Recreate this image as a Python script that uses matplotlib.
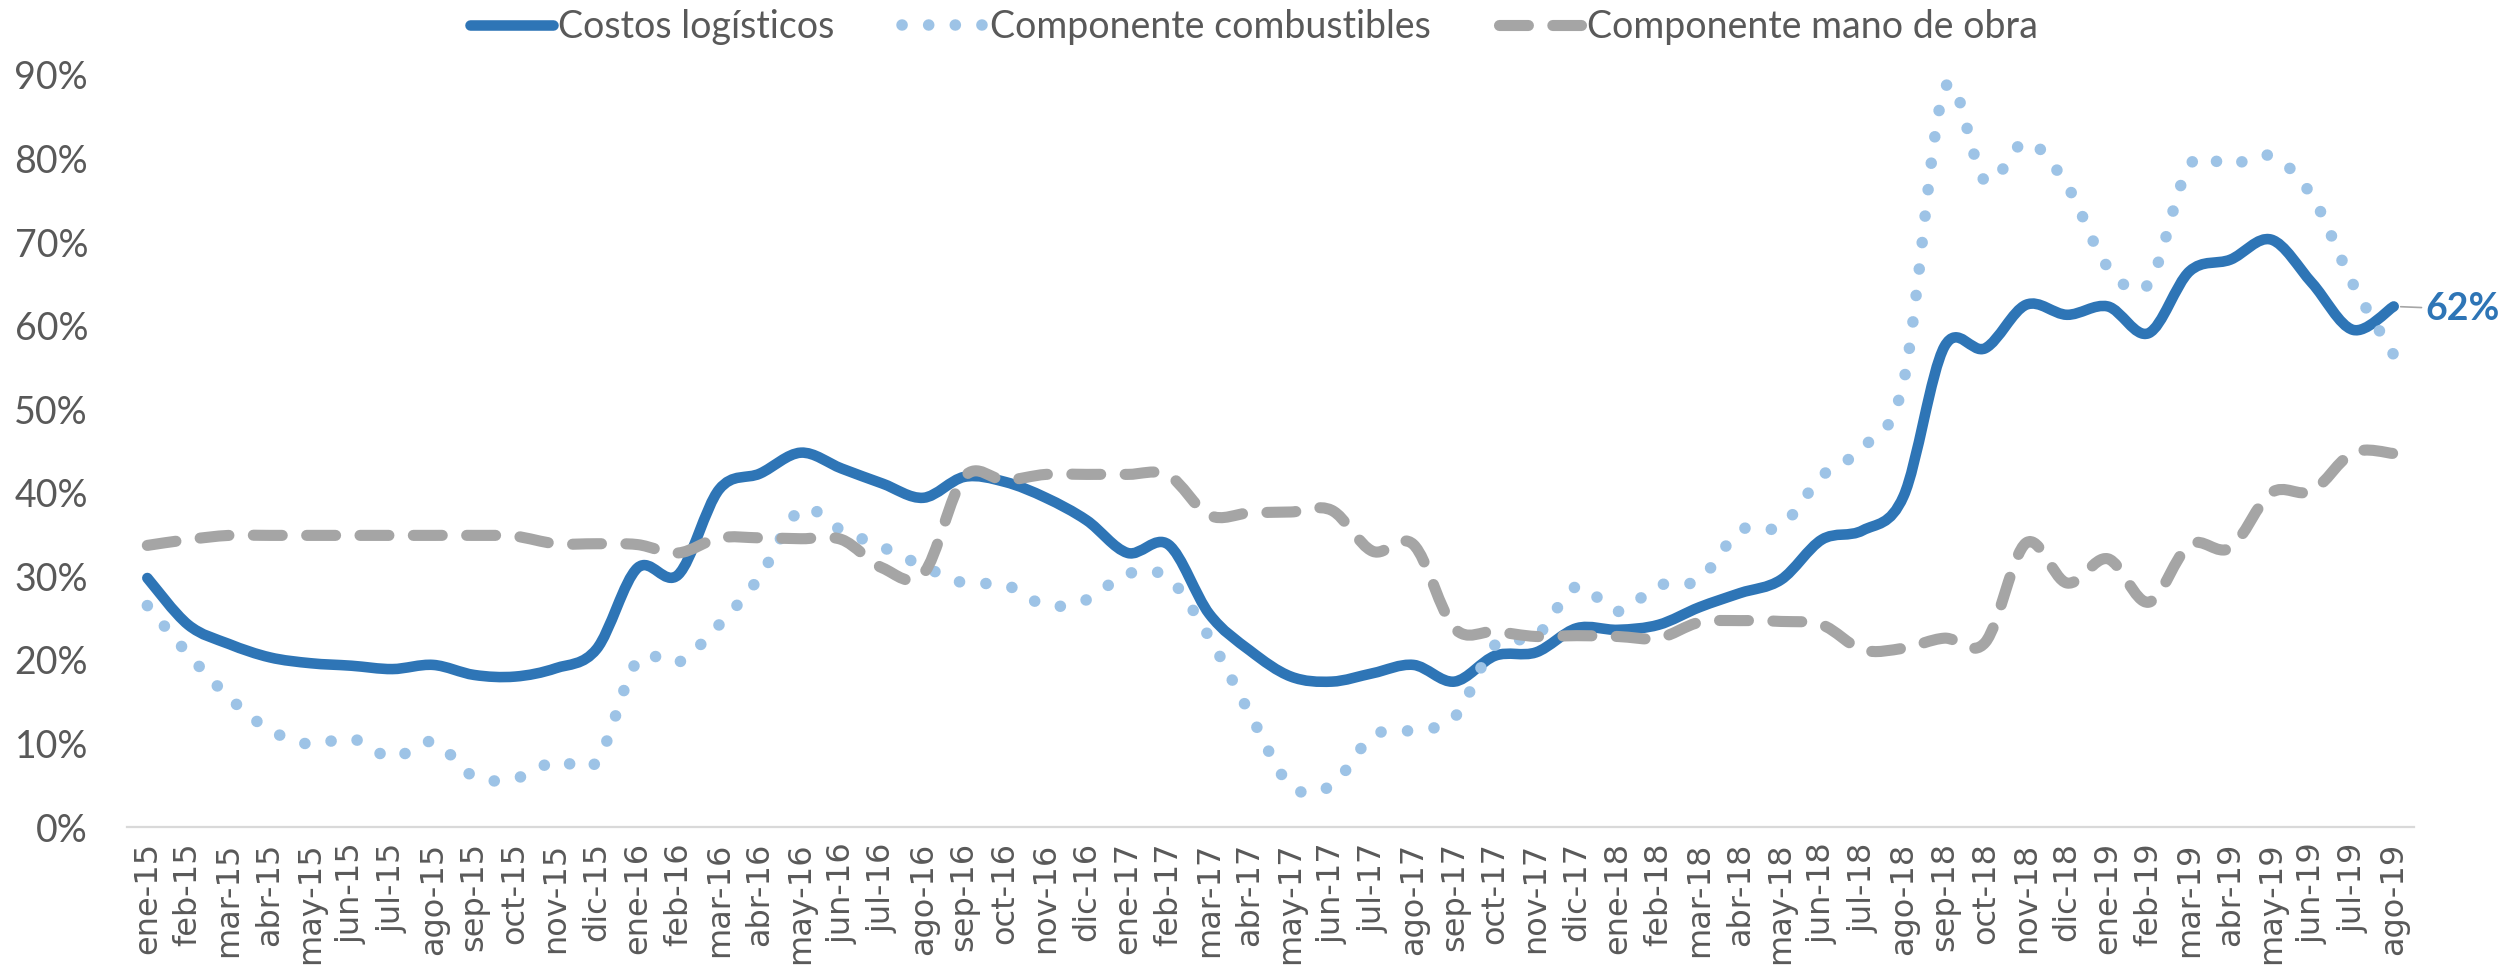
import numpy as np
import matplotlib.pyplot as plt
from matplotlib.path import Path
from matplotlib.patches import PathPatch
from matplotlib.lines import Line2D

# Data (percent), monthly ene-15 .. ago-19
meses = ['ene', 'feb', 'mar', 'abr', 'may', 'jun', 'jul', 'ago', 'sep', 'oct', 'nov', 'dic']
categorias = [f'{m}-{a}' for a in (15, 16, 17, 18) for m in meses] + [f'{m}-19' for m in meses[:8]]

costos = [29.8, 24.2, 21.9, 20.3, 19.6, 19.3, 18.9, 19.4, 18.2, 18.0, 19.0, 21.3,
          31.0, 30.2, 40.4, 42.3, 44.8, 42.9, 41.1, 39.4, 41.9, 41.3, 39.4, 36.7,
          32.8, 33.8, 25.5, 21.1, 18.0, 17.4, 18.4, 19.4, 17.4, 20.5, 20.9, 23.8,
          23.6, 24.2, 26.3, 28.0, 29.6, 34.4, 35.5, 39.6, 57.5, 57.3, 62.5, 61.3,
          62.3, 59.1, 66.5, 67.9, 70.3, 65.1, 59.5, 62.3]

combustibles = [26.5, 20.7, 15.5, 11.6, 9.9, 10.6, 8.3, 10.2, 6.0, 5.8, 7.9, 7.8,
                19.9, 19.7, 24.2, 30.0, 38.0, 35.5, 33.5, 31.2, 29.2, 29.0, 26.5, 27.2,
                30.3, 29.8, 22.7, 13.5, 4.9, 5.0, 10.9, 11.6, 13.1, 21.8, 22.8, 28.8,
                25.8, 28.9, 29.6, 35.5, 36.0, 42.0, 45.4, 53.3, 88.3, 77.3, 82.0, 76.8,
                67.0, 65.0, 79.2, 79.2, 80.3, 75.5, 65.0, 56.5]

mano_obra = [33.7, 34.4, 34.9, 34.9, 34.9, 34.9, 34.9, 34.9, 34.9, 34.8, 33.9, 33.9,
             33.8, 32.8, 34.6, 34.6, 34.5, 34.4, 31.0, 30.3, 41.9, 41.5, 42.2, 42.2,
             42.2, 42.1, 37.3, 37.6, 37.7, 37.9, 33.0, 33.8, 23.8, 23.4, 22.8, 22.9,
             22.8, 22.6, 24.5, 24.7, 24.6, 24.2, 21.2, 21.4, 22.6, 22.1, 34.0, 29.2,
             32.1, 26.9, 33.8, 33.4, 40.0, 40.2, 44.8, 44.7]

c_costos = '#2E75B6'
c_comb = '#9DC3E6'
c_mano = '#A5A5A5'
c_text = '#595959'
font_cal = ['Lato', 'DejaVu Sans']


# Excel-like smoothed line: Catmull-Rom converted to cubic Bezier segments
def smooth_path(y):
    x = np.arange(len(y), dtype=float)
    p = np.column_stack([x, np.asarray(y, dtype=float)])
    pp = np.vstack([p[0], p, p[-1]])
    verts = [p[0]]
    codes = [Path.MOVETO]
    for i in range(len(p) - 1):
        c1 = pp[i + 1] + (pp[i + 2] - pp[i]) / 6
        c2 = pp[i + 2] - (pp[i + 3] - pp[i + 1]) / 6
        verts += [c1, c2, pp[i + 2]]
        codes += [Path.CURVE4] * 3
    return Path(verts, codes)


fig = plt.figure(figsize=(25.03, 9.65), dpi=100)
ax = fig.add_axes([0.0507, 0.143, 0.9138, 0.7793])

styles = [
    (costos, 'Costos logísticos', dict(color=c_costos, lw=7.6, ls='-'), 2),
    (combustibles, 'Componente combustibles', dict(color=c_comb, lw=8.3, ls=(0, (0.01, 2.3))), 3),
    (mano_obra, 'Componente mano de obra', dict(color=c_mano, lw=8.0, ls=(0, (2.6, 2.2))), 4),
]

handles = []
for serie, nombre, st, z in styles:
    patch = PathPatch(smooth_path(serie), fill=False, edgecolor=st['color'],
                      linewidth=st['lw'], linestyle=st['ls'], capstyle='round',
                      joinstyle='round', zorder=z)
    ax.add_patch(patch)
    h = Line2D([], [], color=st['color'], lw=st['lw'], ls=st['ls'],
               solid_capstyle='round', dash_capstyle='round')
    handles.append((h, nombre))

# Data label on last point
ax.annotate(f'{costos[-1]:.0f}%', xy=(len(costos) - 1, costos[-1]),
            xytext=(23, -2), textcoords='offset points', ha='left', va='center',
            fontsize=27, fontweight='bold', color=c_costos, family=font_cal,
            arrowprops=dict(arrowstyle='-', color='#A6A6A6', lw=1.2,
                            shrinkA=1, shrinkB=5))

ax.set_xlim(-0.5, len(categorias) - 0.5)
ax.set_ylim(0, 90)
ax.set_xticks(range(len(categorias)))
ax.set_xticklabels(categorias, rotation=90, fontsize=23, color=c_text,
                   family='DejaVu Sans')
ax.set_yticks(range(0, 91, 10))
ax.set_yticklabels([f'{v}%' for v in range(0, 91, 10)], fontsize=27,
                   color=c_text, family=font_cal)
ax.tick_params(axis='x', length=0, pad=11)
ax.tick_params(axis='y', length=0, pad=28)

for s in ['top', 'right', 'left']:
    ax.spines[s].set_visible(False)
ax.spines['bottom'].set_color('#D9D9D9')
ax.spines['bottom'].set_linewidth(1.6)

leg = fig.legend([h for h, _ in handles], [n for _, n in handles],
                 loc='center', bbox_to_anchor=(0.501, 0.972), ncol=3,
                 frameon=False, handlelength=2.2, handletextpad=0.15,
                 columnspacing=1.8, borderpad=0,
                 prop={'family': font_cal, 'size': 27})
for t in leg.get_texts():
    t.set_color(c_text)

fig.savefig('out.png', dpi=100)
